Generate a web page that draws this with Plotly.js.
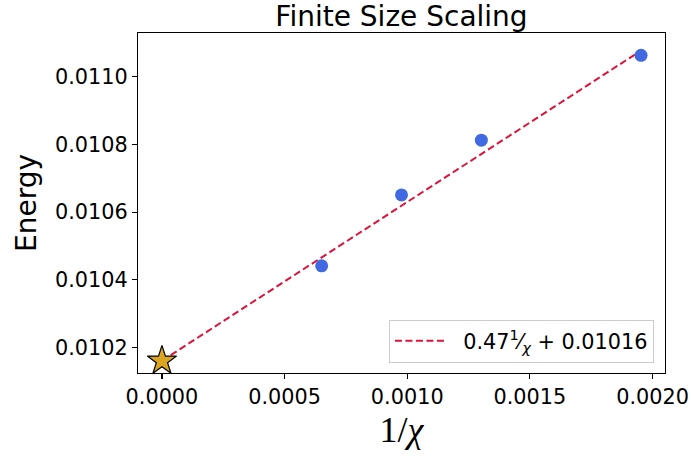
<!DOCTYPE html>
<html>
<head>
<meta charset="utf-8">
<script src="https://cdn.plot.ly/plotly-3.0.1.min.js"></script>
<style>html,body{margin:0;padding:0;background:#fff;}#chart{width:691px;height:457px;}</style>
</head>
<body>
<div id="chart"></div>
<script>
// Data
const invChi = [1/1536, 1/1024, 1/768, 1/512];
const energy = [0.010441, 0.010651, 0.010813, 0.011064];
const fitSlope = 0.47;
const fitIntercept = 0.01016;
const extrapX = [0];
const extrapY = [fitIntercept];
const xTicks = [0, 0.0005, 0.001, 0.0015, 0.002];
const xTickText = ["0.0000", "0.0005", "0.0010", "0.0015", "0.0020"];
const yTicks = [0.0102, 0.0104, 0.0106, 0.0108, 0.0110];
const yTickText = ["0.0102", "0.0104", "0.0106", "0.0108", "0.0110"];

const fitX = [0].concat(invChi);
const fitY = fitX.map(x => fitSlope * x + fitIntercept);

const font = "DejaVu Sans, sans-serif";
const traces = [
  {
    x: fitX, y: fitY, mode: "lines", type: "scatter",
    line: {color: "#DC143C", width: 2, dash: "7px,3.5px"},
    name: "  0.47<sup>1</sup>⁄<sub><i>χ</i></sub> + 0.01016",
    showlegend: true, hoverinfo: "skip"
  },
  {
    x: invChi, y: energy, mode: "markers", type: "scatter",
    marker: {color: "#4169E1", size: 13, line: {width: 0}},
    showlegend: false
  },
  {
    x: extrapX, y: extrapY, mode: "markers", type: "scatter",
    marker: {symbol: "star", color: "#DAA520", size: 22, line: {color: "#000", width: 1.2}},
    showlegend: false
  }
];

const axisCommon = {
  showline: true, linecolor: "#000", linewidth: 1.1, mirror: true,
  ticks: "outside", ticklen: 5, tickwidth: 1.1, tickcolor: "#000",
  showgrid: false, zeroline: false, automargin: false,
  tickfont: {family: font, size: 20.8, color: "#000"}
};

const layout = {
  width: 691, height: 457,
  margin: {l: 138, r: 26, t: 33, b: 84, pad: 0},
  paper_bgcolor: "#fff", plot_bgcolor: "#fff",
  title: {text: "Finite Size Scaling", font: {family: font, size: 28, color: "#000"},
          xref: "paper", x: 0.5, xanchor: "center", yref: "container", y: 0.987, yanchor: "top"},
  xaxis: Object.assign({}, axisCommon, {
    range: [-0.0000977, 0.0020508],
    tickvals: xTicks, ticktext: xTickText,
    title: {text: "1/<i>χ</i>", font: {family: "Liberation Serif, DejaVu Serif, serif", size: 36, color: "#000"}, standoff: 8}
  }),
  yaxis: Object.assign({}, axisCommon, {
    range: [0.010124, 0.01113],
    tickvals: yTicks, ticktext: yTickText,
    title: {text: "Energy", font: {family: font, size: 28, color: "#000"}, standoff: 10}
  }),
  legend: {
    x: 0.979, y: 0.03, xanchor: "right", yanchor: "bottom",
    bgcolor: "rgba(255,255,255,0.8)", bordercolor: "#cccccc", borderwidth: 1,
    itemwidth: 50,
    font: {family: font, size: 20.8, color: "#000"}
  },
  showlegend: true
};

Plotly.newPlot("chart", traces, layout, {displayModeBar: false, staticPlot: true});
</script>
</body>
</html>
